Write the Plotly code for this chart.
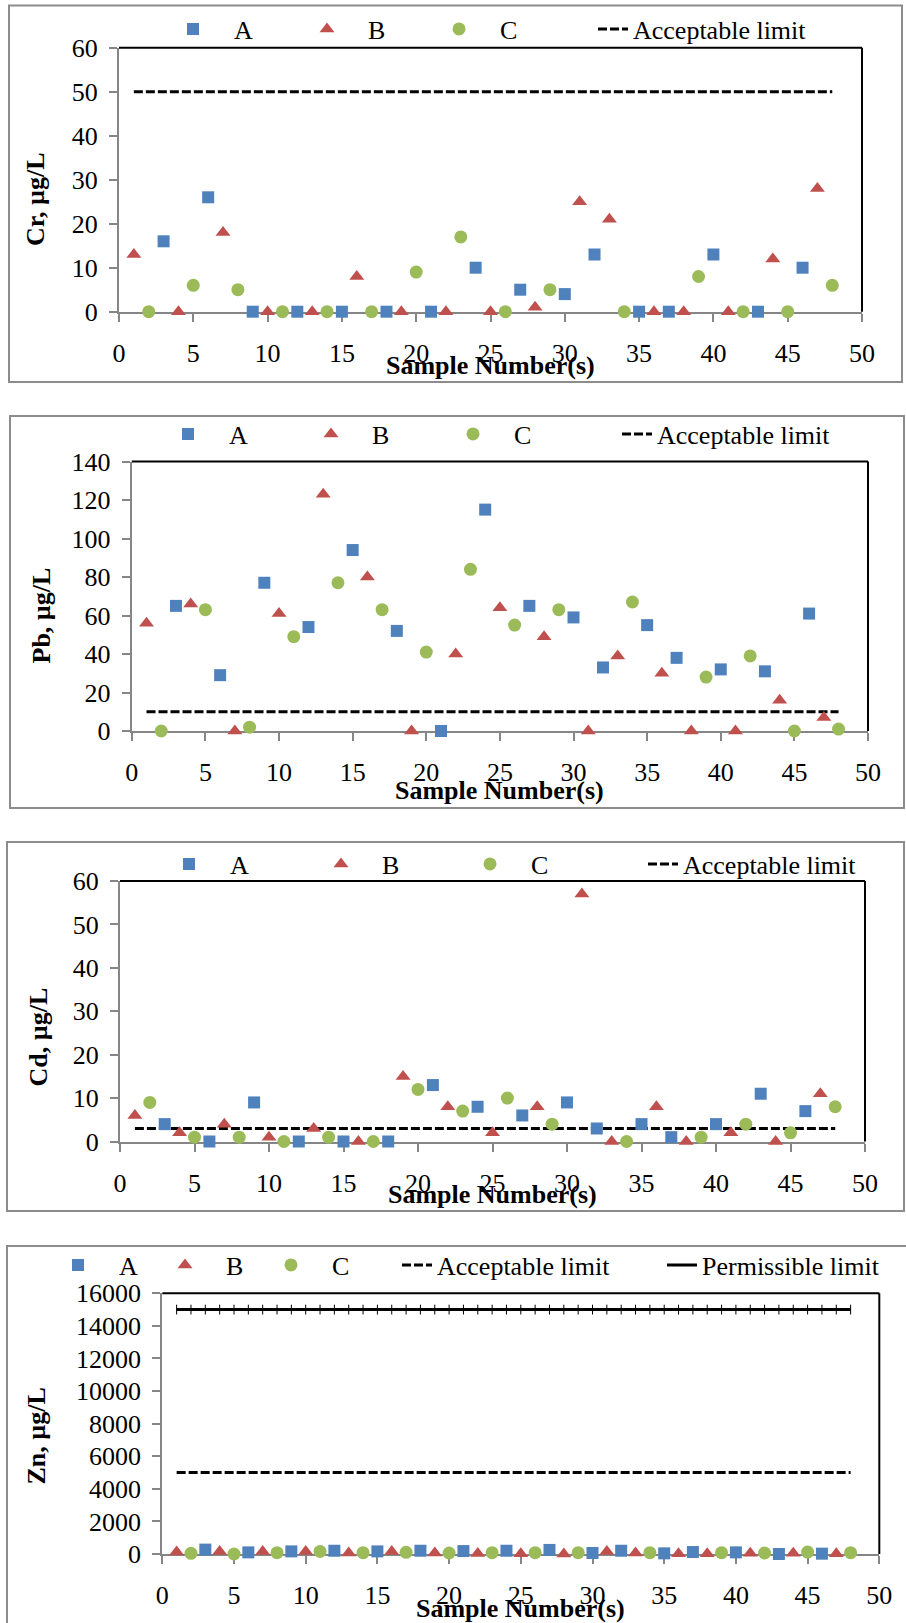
import plotly.graph_objects as go

# ---------------- data ----------------
samples_A = [3, 6, 9, 12, 15, 18, 21, 24, 27, 30, 32, 35, 37, 40, 43, 46]
samples_B = [1, 4, 7, 10, 13, 16, 19, 22, 25, 28, 31, 33, 36, 38, 41, 44, 47]
samples_C = [2, 5, 8, 11, 14, 17, 20, 23, 26, 29, 34, 39, 42, 45, 48]
limit_samples = list(range(1, 49))

cr_A = [16, 26, 0, 0, 0, 0, 0, 10, 5, 4, 13, 0, 0, 13, 0, 10]
cr_B = [13, 0, 18, 0, 0, 8, 0, 0, 0, 1, 25, 21, 0, 0, 0, 12, 28]
cr_C = [0, 6, 5, 0, 0, 0, 9, 17, 0, 5, 0, 8, 0, 0, 6]
cr_acceptable = 50

pb_A = [65, 29, 77, 54, 94, 52, 0, 115, 65, 59, 33, 55, 38, 32, 31, 61]
pb_B = [56, 66, 0, 61, 123, 80, 0, 40, 64, 49, 0, 39, 30, 0, 0, 16, 7]
pb_C = [0, 63, 2, 49, 77, 63, 41, 84, 55, 63, 67, 28, 39, 0, 1]
pb_acceptable = 10

cd_A = [4, 0, 9, 0, 0, 0, 13, 8, 6, 9, 3, 4, 1, 4, 11, 7]
cd_B = [6, 2, 4, 1, 3, 0, 15, 8, 2, 8, 57, 0, 8, 0, 2, 0, 11]
cd_C = [9, 1, 1, 0, 1, 0, 12, 7, 10, 4, 0, 1, 4, 2, 8]
cd_acceptable = 3

zn_A = [270, 100, 160, 200, 160, 200, 180, 200, 250, 60, 200, 40, 120, 100, 0, 20]
zn_B = [130, 150, 150, 150, 60, 150, 60, 30, 20, 0, 150, 60, 20, 20, 40, 40, 20]
zn_C = [40, 0, 80, 160, 80, 100, 60, 80, 80, 80, 80, 80, 60, 120, 80]
zn_acceptable = 5000
zn_permissible = 15000

x_ticks = [0, 5, 10, 15, 20, 25, 30, 35, 40, 45, 50]

# ---------------- layout geometry (pixels) ----------------
W, H = 906, 1623
FONT = "Liberation Serif"
COL_A, COL_B, COL_C = "#4F81BD", "#C0504D", "#9BBB59"
AXIS_GRAY = "#868686"
TICK_SIZE = 26
LEG_SIZE = 26

def px(xp):
    return xp / W

def py(yp):
    return 1 - yp / H

panels = [
    dict(name="Cr", A=cr_A, B=cr_B, C=cr_C, acc=cr_acceptable, perm=None,
         plot=(119, 862, 47.7, 311.7), yrange=[0, 60], dtick=10,
         border=(9, 902, 5.5, 382), leg_y=32,
         leg=dict(A=194, B=328, C=460, acc=634),
         ytitle="Cr, µg/L", ytitle_pos=(35.5, 199.5), xtitle_y=365),
    dict(name="Pb", A=pb_A, B=pb_B, C=pb_C, acc=pb_acceptable, perm=None,
         plot=(131.8, 868, 461.5, 731), yrange=[0, 140], dtick=20,
         border=(10, 904, 416, 808), leg_y=437,
         leg=dict(A=189, B=332, C=474, acc=658),
         ytitle="Pb, µg/L", ytitle_pos=(41, 615.5), xtitle_y=790),
    dict(name="Cd", A=cd_A, B=cd_B, C=cd_C, acc=cd_acceptable, perm=None,
         plot=(120, 865, 881, 1141.5), yrange=[0, 60], dtick=10,
         border=(7, 904, 842, 1211), leg_y=867,
         leg=dict(A=190, B=342, C=491, acc=684),
         ytitle="Cd, µg/L", ytitle_pos=(37.5, 1037), xtitle_y=1194),
    dict(name="Zn", A=zn_A, B=zn_B, C=zn_C, acc=zn_acceptable, perm=zn_permissible,
         plot=(162.3, 879.3, 1293.3, 1554), yrange=[0, 16000], dtick=2000,
         border=(7, 915, 1246, 1640), leg_y=1268,
         leg=dict(A=79, B=186, C=292, acc=438, perm=703),
         ytitle="Zn, µg/L", ytitle_pos=(35.5, 1436), xtitle_y=1608),
]

fig = go.Figure()
layout = dict(width=W, height=H,
              margin=dict(l=0, r=0, t=0, b=0, pad=0, autoexpand=False),
              paper_bgcolor="white", plot_bgcolor="white",
              font=dict(family=FONT, size=LEG_SIZE, color="black"),
              showlegend=True)
shapes = []
annotations = []
legend_count = 0
LEG_DY = -3    # legend text sits slightly below its box centre

def new_legend(x_left, y_center, itemwidth):
    global legend_count
    legend_count += 1
    key = "legend" if legend_count == 1 else f"legend{legend_count}"
    layout[key] = dict(x=px(x_left), y=py(y_center + LEG_DY), xanchor="left",
                       yanchor="middle", orientation="h", bgcolor="rgba(0,0,0,0)",
                       borderwidth=0, itemwidth=itemwidth,
                       font=dict(family=FONT, size=LEG_SIZE, color="black"),
                       itemclick=False, itemdoubleclick=False)
    return key

for i, p in enumerate(panels):
    n = "" if i == 0 else str(i + 1)
    xa, ya = "x" + n, "y" + n
    l, r, t, b = p["plot"]
    layout["xaxis" + n] = dict(
        domain=[px(l), px(r)], anchor=ya, range=[0, 50], tickvals=x_ticks,
        showline=True, linecolor=AXIS_GRAY, linewidth=2, ticks="outside",
        ticklen=8, tickwidth=1.5, tickcolor=AXIS_GRAY, showgrid=False, zeroline=False,
        tickfont=dict(family=FONT, size=TICK_SIZE, color="black"), ticklabelstandoff=9,
        layer="below traces", fixedrange=True, automargin=False)
    layout["yaxis" + n] = dict(
        domain=[py(b), py(t)], anchor=xa, range=p["yrange"], dtick=p["dtick"],
        tickformat="d", showline=True, linecolor=AXIS_GRAY, linewidth=2,
        ticks="outside", ticklen=8, tickwidth=1.5, tickcolor=AXIS_GRAY,
        showgrid=False, zeroline=False,
        tickfont=dict(family=FONT, size=TICK_SIZE, color="black"), ticklabelstandoff=6,
        layer="below traces", fixedrange=True, automargin=False)

    # plot-area top and right borders (black)
    shapes.append(dict(type="line", xref=xa + " domain", yref=ya + " domain",
                       x0=0, x1=1, y0=1, y1=1, line=dict(color="black", width=2)))
    shapes.append(dict(type="line", xref=xa + " domain", yref=ya + " domain",
                       x0=1, x1=1, y0=0, y1=1, line=dict(color="black", width=2)))
    # chart outer border
    bl, br, bt, bb = p["border"]
    shapes.append(dict(type="rect", xref="paper", yref="paper",
                       x0=px(bl), x1=px(br), y0=py(bb), y1=py(bt),
                       line=dict(color="#8C8C8C", width=2), fillcolor="rgba(0,0,0,0)"))

    lg = p["leg"]
    ly = p["leg_y"]
    # limit lines
    fig.add_trace(go.Scatter(
        x=limit_samples, y=[p["acc"]] * len(limit_samples), mode="lines",
        name="Acceptable limit", line=dict(color="black", width=3, dash="9px,3px"),
        xaxis=xa, yaxis=ya, legend=new_legend(lg["acc"] - 41, ly, 30),
        hoverinfo="skip"))
    if p["perm"] is not None:
        fig.add_trace(go.Scatter(
            x=limit_samples, y=[p["perm"]] * len(limit_samples), mode="lines",
            name="Permissible limit", line=dict(color="black", width=3),
            xaxis=xa, yaxis=ya, legend=new_legend(lg["perm"] - 41, ly, 30),
            hoverinfo="skip"))
        fig.add_trace(go.Scatter(
            x=limit_samples, y=[p["perm"]] * len(limit_samples), mode="markers",
            marker=dict(symbol="line-ns", size=7, line=dict(color="black", width=1)),
            showlegend=False, xaxis=xa, yaxis=ya, hoverinfo="skip"))

    # data series
    for key, xs, sym, col, size in [("A", samples_A, "square", COL_A, 12),
                                    ("B", samples_B, "triangle-up", COL_B, 13),
                                    ("C", samples_C, "circle", COL_C, 13)]:
        fig.add_trace(go.Scatter(
            x=xs, y=p[key], mode="markers", name=key,
            marker=dict(symbol=sym, size=size, color=col, line=dict(width=0)),
            cliponaxis=False, xaxis=xa, yaxis=ya,
            legend=new_legend(lg[key] - 42, ly, 72)))

    # axis titles
    annotations.append(dict(text="<b>Sample Number(s)</b>", xref=xa + " domain", x=0.5,
                            yref="paper", y=py(p["xtitle_y"]), xanchor="center",
                            yanchor="middle", showarrow=False,
                            font=dict(family=FONT, size=26, color="black")))
    tx, ty = p["ytitle_pos"]
    annotations.append(dict(text="<b>" + p["ytitle"] + "</b>", xref="paper", x=px(tx),
                            yref="paper", y=py(ty), xanchor="center", yanchor="middle",
                            textangle=-90, showarrow=False,
                            font=dict(family=FONT, size=26, color="black")))

layout["shapes"] = shapes
layout["annotations"] = annotations
fig.update_layout(**layout)
fig.write_html("out.html", post_script="document.body.style.margin='0px';")
